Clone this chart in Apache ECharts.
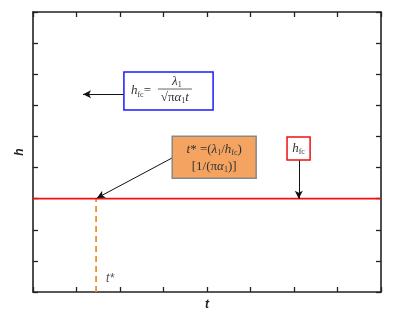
<!DOCTYPE html>
<html><head><meta charset="utf-8">
<script src="https://cdn.jsdelivr.net/npm/echarts@6/dist/echarts.min.js"></script>
<style>html,body{margin:0;padding:0;background:#fff}#c{width:400px;height:321px}</style>
</head><body><div id="c"></div>
<script>
// axis ranges (unitless schematic)
var xRange = [0, 8];
var yRange = [0, 9];
// constant convective coefficient h_fc line
var hfcLine = [[0, 3], [8, 3]];
// critical time t*
var tStar = [[1.45, 0], [1.45, 3]];
// annotation boxes [x0, y0, x1, y1] in data units
var blueBox = [2.09, 7.07, 4.14, 5.85];
var orangeBox = [3.2, 5.01, 5.13, 3.66];
var redBox = [5.84, 4.98, 6.37, 4.24];
// arrows [from, to]
var arrows = [
  [[2.09, 6.36], [1.15, 6.36]],
  [[3.2, 4.31], [1.47, 3.02]],
  [[6.11, 4.24], [6.11, 3.0]]
];

var chart = echarts.init(document.getElementById('c'));
var axisCommon = {
  type: 'value', splitLine: {show: false},
  axisLine: {show: true, onZero: false, lineStyle: {color: '#222', width: 1.6}},
  axisTick: {show: true, inside: true, length: 5, lineStyle: {color: '#222', width: 1.3}},
  axisLabel: {show: false}
};
var nameStyle = {fontFamily: 'Liberation Sans', fontStyle: 'italic', fontWeight: 'bold', fontSize: 12, color: '#222'};
chart.setOption({
  animation: false,
  grid: {left: 33, right: 19, top: 12, bottom: 29},
  xAxis: [
    Object.assign({}, axisCommon, {min: xRange[0], max: xRange[1], interval: 1, position: 'bottom',
      name: 't', nameLocation: 'middle', nameGap: 7, nameTextStyle: nameStyle}),
    Object.assign({}, axisCommon, {min: xRange[0], max: xRange[1], interval: 1, position: 'top'})
  ],
  yAxis: [
    Object.assign({}, axisCommon, {min: yRange[0], max: yRange[1], interval: 1, position: 'left',
      name: 'h', nameLocation: 'middle', nameGap: 7, nameTextStyle: nameStyle}),
    Object.assign({}, axisCommon, {min: yRange[0], max: yRange[1], interval: 1, position: 'right'})
  ],
  series: [
    {type: 'line', data: hfcLine, symbol: 'none', lineStyle: {color: '#f01010', width: 1.8}, z: 3,
      markLine: {
        silent: true, symbol: ['none', 'arrow'], symbolSize: [6, 8],
        lineStyle: {color: '#111', width: 1, type: 'solid'}, label: {show: false},
        data: arrows.map(function (a) { return [{coord: a[0]}, {coord: a[1]}]; })
      }},
    {type: 'line', data: tStar, symbol: 'none', lineStyle: {color: '#f0922e', width: 1.8, type: [6, 4]}, z: 2}
  ]
});

function px(p) { return chart.convertToPixel({xAxisIndex: 0, yAxisIndex: 0}, p); }
function box(b, stroke, fill) {
  var a = px([b[0], b[1]]), c = px([b[2], b[3]]);
  return {type: 'rect', shape: {x: a[0], y: a[1], width: c[0] - a[0], height: c[1] - a[1]},
    style: {stroke: stroke, fill: fill, lineWidth: 1.5}, z: 10};
}
var bb = px([blueBox[0], blueBox[1]]), bb2 = px([blueBox[2], blueBox[3]]);
var ob = px([orangeBox[0], orangeBox[1]]), ob2 = px([orangeBox[2], orangeBox[3]]);
var rb = px([redBox[0], redBox[1]]), rb2 = px([redBox[2], redBox[3]]);
var ts = px([tStar[0][0], 0]);
var tc = '#333';
var SF = '"Liberation Serif"';
var rich = {
  i: {font: 'italic 13px ' + SF, fill: tc},
  n: {font: '13px ' + SF, fill: tc},
  s: {font: '8px ' + SF, fill: tc, padding: [7, 0, 0, 0]}
};
var bmid = (bb[1] + bb2[1]) / 2;
chart.setOption({
  graphic: [
    box(blueBox, '#1a1aff', '#fff'),
    box(orangeBox, '#888', '#f4a460'),
    box(redBox, '#f01010', '#fff'),
    {type: 'text', z: 11, x: bb[0] + 7, y: bmid, style: {text: '{i|h}{s|fc}{n|=}', rich: rich, verticalAlign: 'middle'}},
    {type: 'text', z: 11, x: bb[0] + 53, y: bmid - 2, style: {text: '{i|λ}{s|1}', rich: rich, align: 'center', verticalAlign: 'bottom'}},
    {type: 'line', z: 11, shape: {x1: bb[0] + 34, y1: bmid - 2, x2: bb[0] + 68, y2: bmid - 2}, style: {stroke: '#666', lineWidth: 1}},
    {type: 'text', z: 11, x: bb[0] + 51, y: bmid - 1, style: {text: '{n|√π}{i|α}{s|1}{i|t}', rich: rich, align: 'center', verticalAlign: 'top'}},
    {type: 'text', z: 11, x: (ob[0] + ob2[0]) / 2, y: ob[1] + 13, style: {text: '{i|t}{n|* =(}{i|λ}{s|1}{n|/}{i|h}{s|fc}{n|)}', rich: rich, align: 'center', verticalAlign: 'middle'}},
    {type: 'text', z: 11, x: (ob[0] + ob2[0]) / 2, y: ob[1] + 30, style: {text: '{n|[1/(π}{i|α}{s|1}{n|)]}', rich: rich, align: 'center', verticalAlign: 'middle'}},
    {type: 'text', z: 11, x: (rb[0] + rb2[0]) / 2, y: (rb[1] + rb2[1]) / 2, style: {text: '{i|h}{s|fc}', rich: rich, align: 'center', verticalAlign: 'middle'}},
    {type: 'text', z: 11, x: ts[0] + 10, y: ts[1] - 13, style: {text: 't*', font: 'italic 12px "Liberation Sans"', fill: '#555', verticalAlign: 'middle'}}
  ]
});
</script></body></html>
